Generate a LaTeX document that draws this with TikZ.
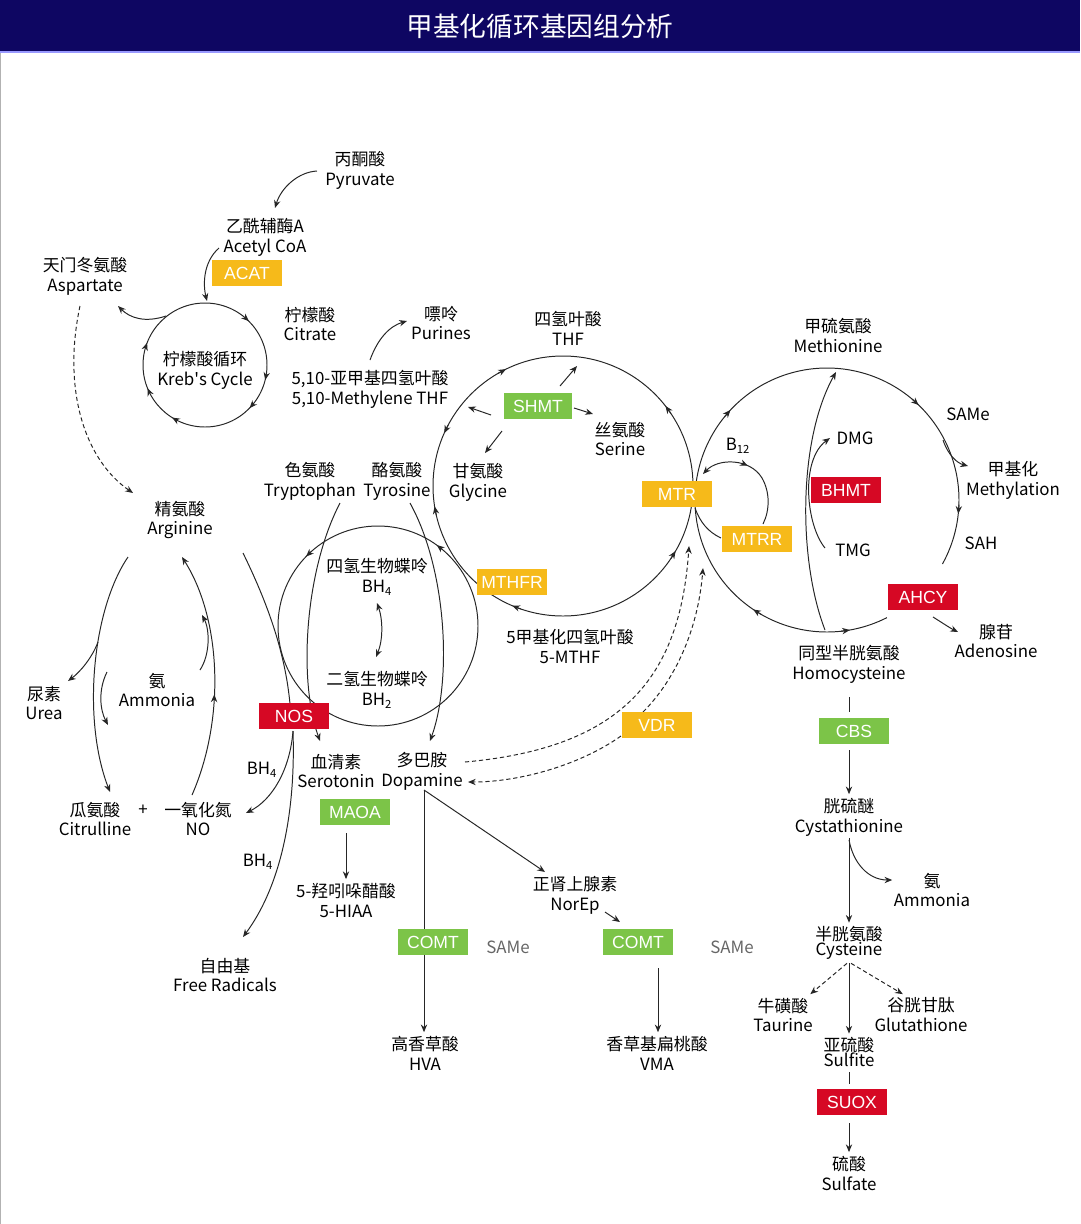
\documentclass[tikz,border=0pt]{standalone}
\usepackage{fontspec}
\setmainfont{Noto Sans CJK SC}
\newfontfamily\enzfont{Liberation Sans}
\usepackage{tikz}
\usetikzlibrary{arrows.meta,calc,backgrounds,decorations.markings}
\usepackage{xcolor}

\definecolor{navy}{RGB}{14,6,98}
\definecolor{gold}{RGB}{246,186,26}
\definecolor{leaf}{RGB}{124,196,72}
\definecolor{crimson}{RGB}{214,8,36}

% arrow head sitting on a cycle: centre, radius, angle
\newcommand{\cwtip}[3]{\draw[cirtip] ($(#1)+({#3-4}:#2)$) -- ($(#1)+(#3:#2)$);}
\newcommand{\ccwtip}[3]{\draw[cirtip] ($(#1)+({#3+4}:#2)$) -- ($(#1)+(#3:#2)$);}

\begin{document}
\begin{tikzpicture}[
    x=0.025cm, y=-0.025cm,
    >={Stealth[length=5.5pt,width=4.5pt]},
    lbl/.style={align=center, inner sep=1pt, font=\fontsize{12}{14.2}\selectfont},
    tight/.style={lbl, font={\fontsize{12}{10.7}\selectfont\lineskiplimit=-30pt}},
    enz/.style={
        rectangle, minimum width=1.75cm, minimum height=0.64cm,
        inner sep=0pt, text=white, font=\enzfont\fontsize{12.5}{14}\selectfont
    },
    yenz/.style={enz, fill=gold},
    genz/.style={enz, fill=leaf},
    renz/.style={enz, fill=crimson},
    ln/.style={line width=0.7pt, color=black!85},
    arr/.style={->, ln},
    darr/.style={->, ln, dash pattern=on 3pt off 2pt},
    cirtip/.style={->, ln},
    midarr/.style={postaction={decorate},
        decoration={markings, mark=at position #1 with {\arrow{>}}}}
]
    \useasboundingbox (0,0) rectangle (1080,1224);

    % Title
    \node[text=white, font=\fontsize{19}{22}\selectfont] (title) at (540,26) {甲基化循环基因组分析};

    % Citric acid cycle
    \node[lbl] (pyr) at (360,170) {丙酮酸\\Pyruvate};
    \node[lbl] (acoa) at (265,237) {乙酰辅酶A\\Acetyl CoA};
    \node[yenz] (acat) at (247,273) {ACAT};
    \node[lbl] (asp) at (85,276) {天门冬氨酸\\Aspartate};
    \node[lbl] (krebs) at (205,370) {柠檬酸循环\\Kreb\textquotesingle s Cycle};
    \node[lbl] (cit) at (310,324) {柠檬酸\\Citrate};
    \node[lbl] (pur) at (441,323) {嘌呤\\Purines};
    \node[lbl] (mthf) at (370,389) {5,10-亚甲基四氢叶酸\\5,10-Methylene THF};

    % Folate cycle
    \node[lbl] (thf) at (568,328) {四氢叶酸\\THF};
    \node[genz, minimum width=1.68cm] (shmt) at (538,406) {SHMT};
    \node[lbl] (ser) at (620,439) {丝氨酸\\Serine};
    \node[lbl] (gly) at (478,482) {甘氨酸\\Glycine};
    \node[yenz] (mtr) at (677,494) {MTR};
    \node[yenz] (mthfr) at (512,582) {MTHFR};
    \node[lbl] (mthf5) at (570,646) {5甲基化四氢叶酸\\5-MTHF};

    % Methionine cycle
    \node[lbl] (met) at (838,335) {甲硫氨酸\\Methionine};
    \node[lbl] (same) at (968,414) {SAMe};
    \node[lbl] (mety) at (1013,480) {甲基化\\Methylation};
    \node[lbl] (sah) at (981,543) {SAH};
    \node[lbl] (dmg) at (855,438) {DMG};
    \node[renz] (bhmt) at (846,490) {BHMT};
    \node[lbl] (tmg) at (853,550) {TMG};
    \node[lbl] (b12) at (738,446) {B\textsubscript{12}};
    \node[yenz] (mtrr) at (757,539) {MTRR};
    \node[renz] (ahcy) at (923,597) {AHCY};
    \node[lbl] (ado) at (996,641) {腺苷\\Adenosine};
    \node[lbl] (hcy) at (849,664) {同型半胱氨酸\\Homocysteine};

    % BH4 and neurotransmitters
    \node[lbl] (trp) at (310,481) {色氨酸\\Tryptophan};
    \node[lbl] (tyr) at (397,481) {酪氨酸\\Tyrosine};
    \node[lbl] (bh4) at (377,577) {四氢生物蝶呤\\BH\textsubscript{4}};
    \node[lbl] (bh2) at (377,690) {二氢生物蝶呤\\BH\textsubscript{2}};
    \node[renz] (nos) at (294,716) {NOS};
    \node[lbl] (sero) at (336,771) {血清素\\Serotonin};
    \node[lbl] (dopa) at (422,771) {多巴胺\\Dopamine};
    \node[yenz] (vdr) at (657,725) {VDR};
    \node[genz] (maoa) at (355,812) {MAOA};
    \node[lbl] (hiaa) at (346,900) {5-羟吲哚醋酸\\5-HIAA};
    \node[lbl] (norep) at (575,895) {正肾上腺素\\NorEp};
    \node[genz] (comta) at (433,942) {COMT};
    \node[lbl, text=black!60] (samea) at (508,947) {SAMe};
    \node[genz] (comtb) at (638,942) {COMT};
    \node[lbl, text=black!60] (sameb) at (732,947) {SAMe};
    \node[lbl] (hva) at (425,1053) {高香草酸\\HVA};
    \node[lbl] (vma) at (657,1053) {香草基扁桃酸\\VMA};

    % Urea cycle
    \node[lbl] (arg) at (180,520) {精氨酸\\Arginine};
    \node[lbl] (urea) at (44,703) {尿素\\Urea};
    \node[lbl] (ammo) at (157,690) {氨\\Ammonia};
    \node[lbl] (citr) at (95,819) {瓜氨酸\\Citrulline};
    \node[lbl] (plus) at (143,810) {+};
    \node[lbl] (no) at (198,819) {一氧化氮\\NO};
    \node[lbl] (bha) at (262,770) {BH\textsubscript{4}};
    \node[lbl] (bhb) at (258,862) {BH\textsubscript{4}};
    \node[lbl] (frad) at (225,975) {自由基\\Free Radicals};

    % Transsulfuration
    \node[genz] (cbs) at (854,731) {CBS};
    \node[lbl] (cysta) at (849,817) {胱硫醚\\Cystathionine};
    \node[lbl] (ammb) at (932,890) {氨\\Ammonia};
    \node[tight] (cys) at (849,943) {半胱氨酸\\Cysteine};
    \node[lbl] (tau) at (783,1015) {牛磺酸\\Taurine};
    \node[lbl] (glu) at (921,1015) {谷胱甘肽\\Glutathione};
    \node[tight] (sulfi) at (849,1052) {亚硫酸\\Sulfite};
    \node[renz] (suox) at (852,1102) {SUOX};
    \node[lbl] (sulfa) at (849,1173) {硫酸\\Sulfate};

    % Cycle centres and connector ends
    \coordinate (kc) at (205,365);
    \coordinate (fc) at (563,486);
    \coordinate (mc) at (827,500);
    \coordinate (bc) at (378,626);
    \coordinate (pyrout) at (317,171);  \coordinate (acoain) at (275,208);
    \coordinate (acoaout) at (219,248); \coordinate (kin) at (207,301);
    \coordinate (kout) at (166,316);    \coordinate (aspin) at (118,306);
    \coordinate (aspout) at (80,306);   \coordinate (argin) at (133,493);
    \coordinate (mtout) at (370,360);   \coordinate (purin) at (407,321);
    \coordinate (trpout) at (340,503);  \coordinate (seroin) at (320,741);
    \coordinate (tyrout) at (410,503);  \coordinate (dopain) at (430,741);
    \coordinate (argout) at (243,553);  \coordinate (nosin) at (290,704);
    \coordinate (nosout) at (293,731);  \coordinate (noin) at (246,813);
    \coordinate (fradin) at (243,937);
    \coordinate (argl) at (128,557);    \coordinate (citin) at (110,792);
    \coordinate (ureab) at (98,642);    \coordinate (ureain) at (68,681);
    \coordinate (amma) at (107,672);    \coordinate (ammb2) at (108,725);
    \coordinate (ammc) at (200,670);    \coordinate (ammd) at (202,615);
    \coordinate (noout) at (192,795);   \coordinate (argr) at (182,557);
    \coordinate (bh4b) at (377,603);    \coordinate (bh2t) at (376,657);
    \coordinate (dopar) at (465,762);   \coordinate (mtrd) at (689,546);
    \coordinate (vdrl) at (621,736);    \coordinate (dopad) at (468,782);
    \coordinate (vdrt) at (643,712);    \coordinate (mtre) at (703,568);
    \coordinate (hcyb) at (825,630);    \coordinate (mett) at (836,372);
    \coordinate (tmgl) at (825,548);    \coordinate (dmgl) at (830,438);
    \coordinate (samo) at (943,440);    \coordinate (metyin) at (968,466);
    \coordinate (ahcyo) at (933,617);   \coordinate (adoin) at (958,632);
    \coordinate (b12l) at (703,474);    \coordinate (b12r) at (763,524);
    \coordinate (mtrj) at (695,508);    \coordinate (mtrrl) at (721,538);
    \coordinate (shmta) at (560,386);   \coordinate (thfin) at (577,366);
    \coordinate (shmtb) at (574,408);   \coordinate (serin) at (593,414);
    \coordinate (shmtc) at (491,415);   \coordinate (mtin) at (468,407);
    \coordinate (shmtd) at (502,431);   \coordinate (glyin) at (485,453);
    \coordinate (dopab) at (424,790);   \coordinate (norepin) at (545,872);
    \coordinate (norepo) at (605,912);  \coordinate (comtbin) at (620,922);
    \coordinate (comtbx) at (658,968);

    \begin{scope}[on background layer]
        \fill[navy] (0,0) rectangle (1080,52);
        \draw[blue!40!white, line width=1pt] (0,52) -- (1080,52);
        \draw[black!30, line width=1pt] (0.5,53) -- (0.5,1224);

        % Cycles
        \draw[ln] (kc) circle[radius=62];
        \draw[ln] (fc) circle[radius=130];
        \draw[ln] (bc) circle[radius=100];
        \draw[ln] plot[domain=63:389, samples=160, smooth] ({827+132*cos(\x)},{500+132*sin(\x)});

        \foreach \a in {315,14,44,122,158,201} {\cwtip{kc}{62}{\a}}
        \foreach \a in {244,171,113} {\cwtip{fc}{130}{\a}}
        \foreach \a in {204,322,30} {\ccwtip{fc}{130}{\a}}
        \foreach \a in {223,314,6,124} {\cwtip{mc}{132}{\a}}
        \ccwtip{mc}{132}{80}
        \foreach \a in {306,224} {\ccwtip{bc}{100}{\a}}

        % Krebs cycle links
        \draw[arr] (pyrout) .. controls (298,172) and (281,188) .. (acoain);
        \draw[arr] (acoaout) .. controls (203,262) and (203,285) .. (kin);
        \draw[arr] (kout) .. controls (145,323) and (130,318) .. (aspin);
        \draw[darr] (aspout) .. controls (62,390) and (85,460) .. (argin);
        \draw[arr] (mtout) .. controls (378,338) and (390,326) .. (purin);

        % SHMT
        \draw[arr] (shmta) -- (thfin);
        \draw[arr] (shmtb) -- (serin);
        \draw[arr] (shmtc) -- (mtin);
        \draw[arr] (shmtd) -- (glyin);

        % Neurotransmitters
        \draw[arr] (trpout) .. controls (305,570) and (298,680) .. (seroin);
        \draw[arr] (tyrout) .. controls (447,570) and (452,680) .. (dopain);
        \draw[<->, ln] (bh4b) .. controls (383,620) and (383,640) .. (bh2t);
        \draw[darr] (dopar) .. controls (620,748) and (680,680) .. (mtrd);
        \draw[darr] (vdrl) .. controls (580,765) and (520,782) .. (dopad);
        \draw[darr] (vdrt) .. controls (675,680) and (698,630) .. (mtre);
        \draw[ln] (dopab) -- (dopab |- comta.north);
        \draw[arr] (dopab |- comta.south) -- ($(dopab |- hva.north)+(0,-2)$);
        \draw[arr] (dopab) -- (norepin);
        \draw[arr] (norepo) -- (comtbin);
        \draw[arr] (comtbx) -- ($(comtbx |- vma.north)+(0,-2)$);
        \draw[arr] ($(hiaa.north |- maoa.south)+(0,8)$) -- ($(hiaa.north)+(0,-2)$);

        % Urea cycle and NOS
        \draw[ln] (argout) .. controls (266,600) and (285,650) .. (nosin);
        \draw[arr] (nosout) .. controls (290,770) and (272,800) .. (noin);
        \draw[arr] (nosout) .. controls (296,820) and (278,890) .. (fradin);
        \draw[arr] (argl) .. controls (92,610) and (82,720) .. (citin);
        \draw[arr] (ureab) .. controls (92,658) and (80,672) .. (ureain);
        \draw[arr] (amma) .. controls (98,690) and (100,710) .. (ammb2);
        \draw[arr] (ammc) .. controls (210,655) and (210,630) .. (ammd);
        \draw[arr, midarr=0.42] (noout) .. controls (225,720) and (222,620) .. (argr);

        % Methionine cycle links
        \draw[arr] (hcyb) .. controls (798,560) and (798,440) .. (mett);
        \draw[arr] (tmgl) .. controls (806,525) and (800,460) .. (dmgl);
        \draw[arr] (samo) .. controls (948,455) and (957,463) .. (metyin);
        \draw[arr] (ahcyo) .. controls (941,622) and (950,628) .. (adoin);
        \draw[<-, ln, midarr=0.42] (b12l) .. controls (718,458) and (750,458) .. (762,478)
            .. controls (770,492) and (770,510) .. (b12r);
        \draw[ln] (mtrj) .. controls (700,522) and (708,532) .. (mtrrl);

        % Transsulfuration
        \draw[ln] ($(hcy.south)+(0,12)$) -- ($(hcy.south |- cbs.north)+(0,-6)$);
        \draw[arr] ($(cysta.north |- cbs.south)+(0,6)$) -- ($(cysta.north)+(0,-2)$);
        \draw[arr] (cysta.south) -- ($(cys.north)+(0,-2)$);
        \draw[arr] ($(cysta.south)+(0,2)$) .. controls +(4,23) and +(-24,0) .. ($(ammb.west)+(0,-10)$);
        \draw[darr] ($(cys.south)+(-2,2)$) -- ($(tau.north east)+(-4,-2)$);
        \draw[darr] ($(cys.south)+(2,2)$) -- ($(glu.north west)+(30,-2)$);
        \draw[arr] ($(cys.south)+(0,2)$) -- ($(sulfi.north)+(0,-2)$);
        \draw[ln] ($(sulfi.south)+(0,4)$) -- ($(sulfi.south |- suox.north)+(0,-5)$);
        \draw[arr] ($(sulfi.south |- suox.south)+(0,8)$) -- ($(sulfa.north)+(0,-2)$);
    \end{scope}

\end{tikzpicture}
\end{document}
